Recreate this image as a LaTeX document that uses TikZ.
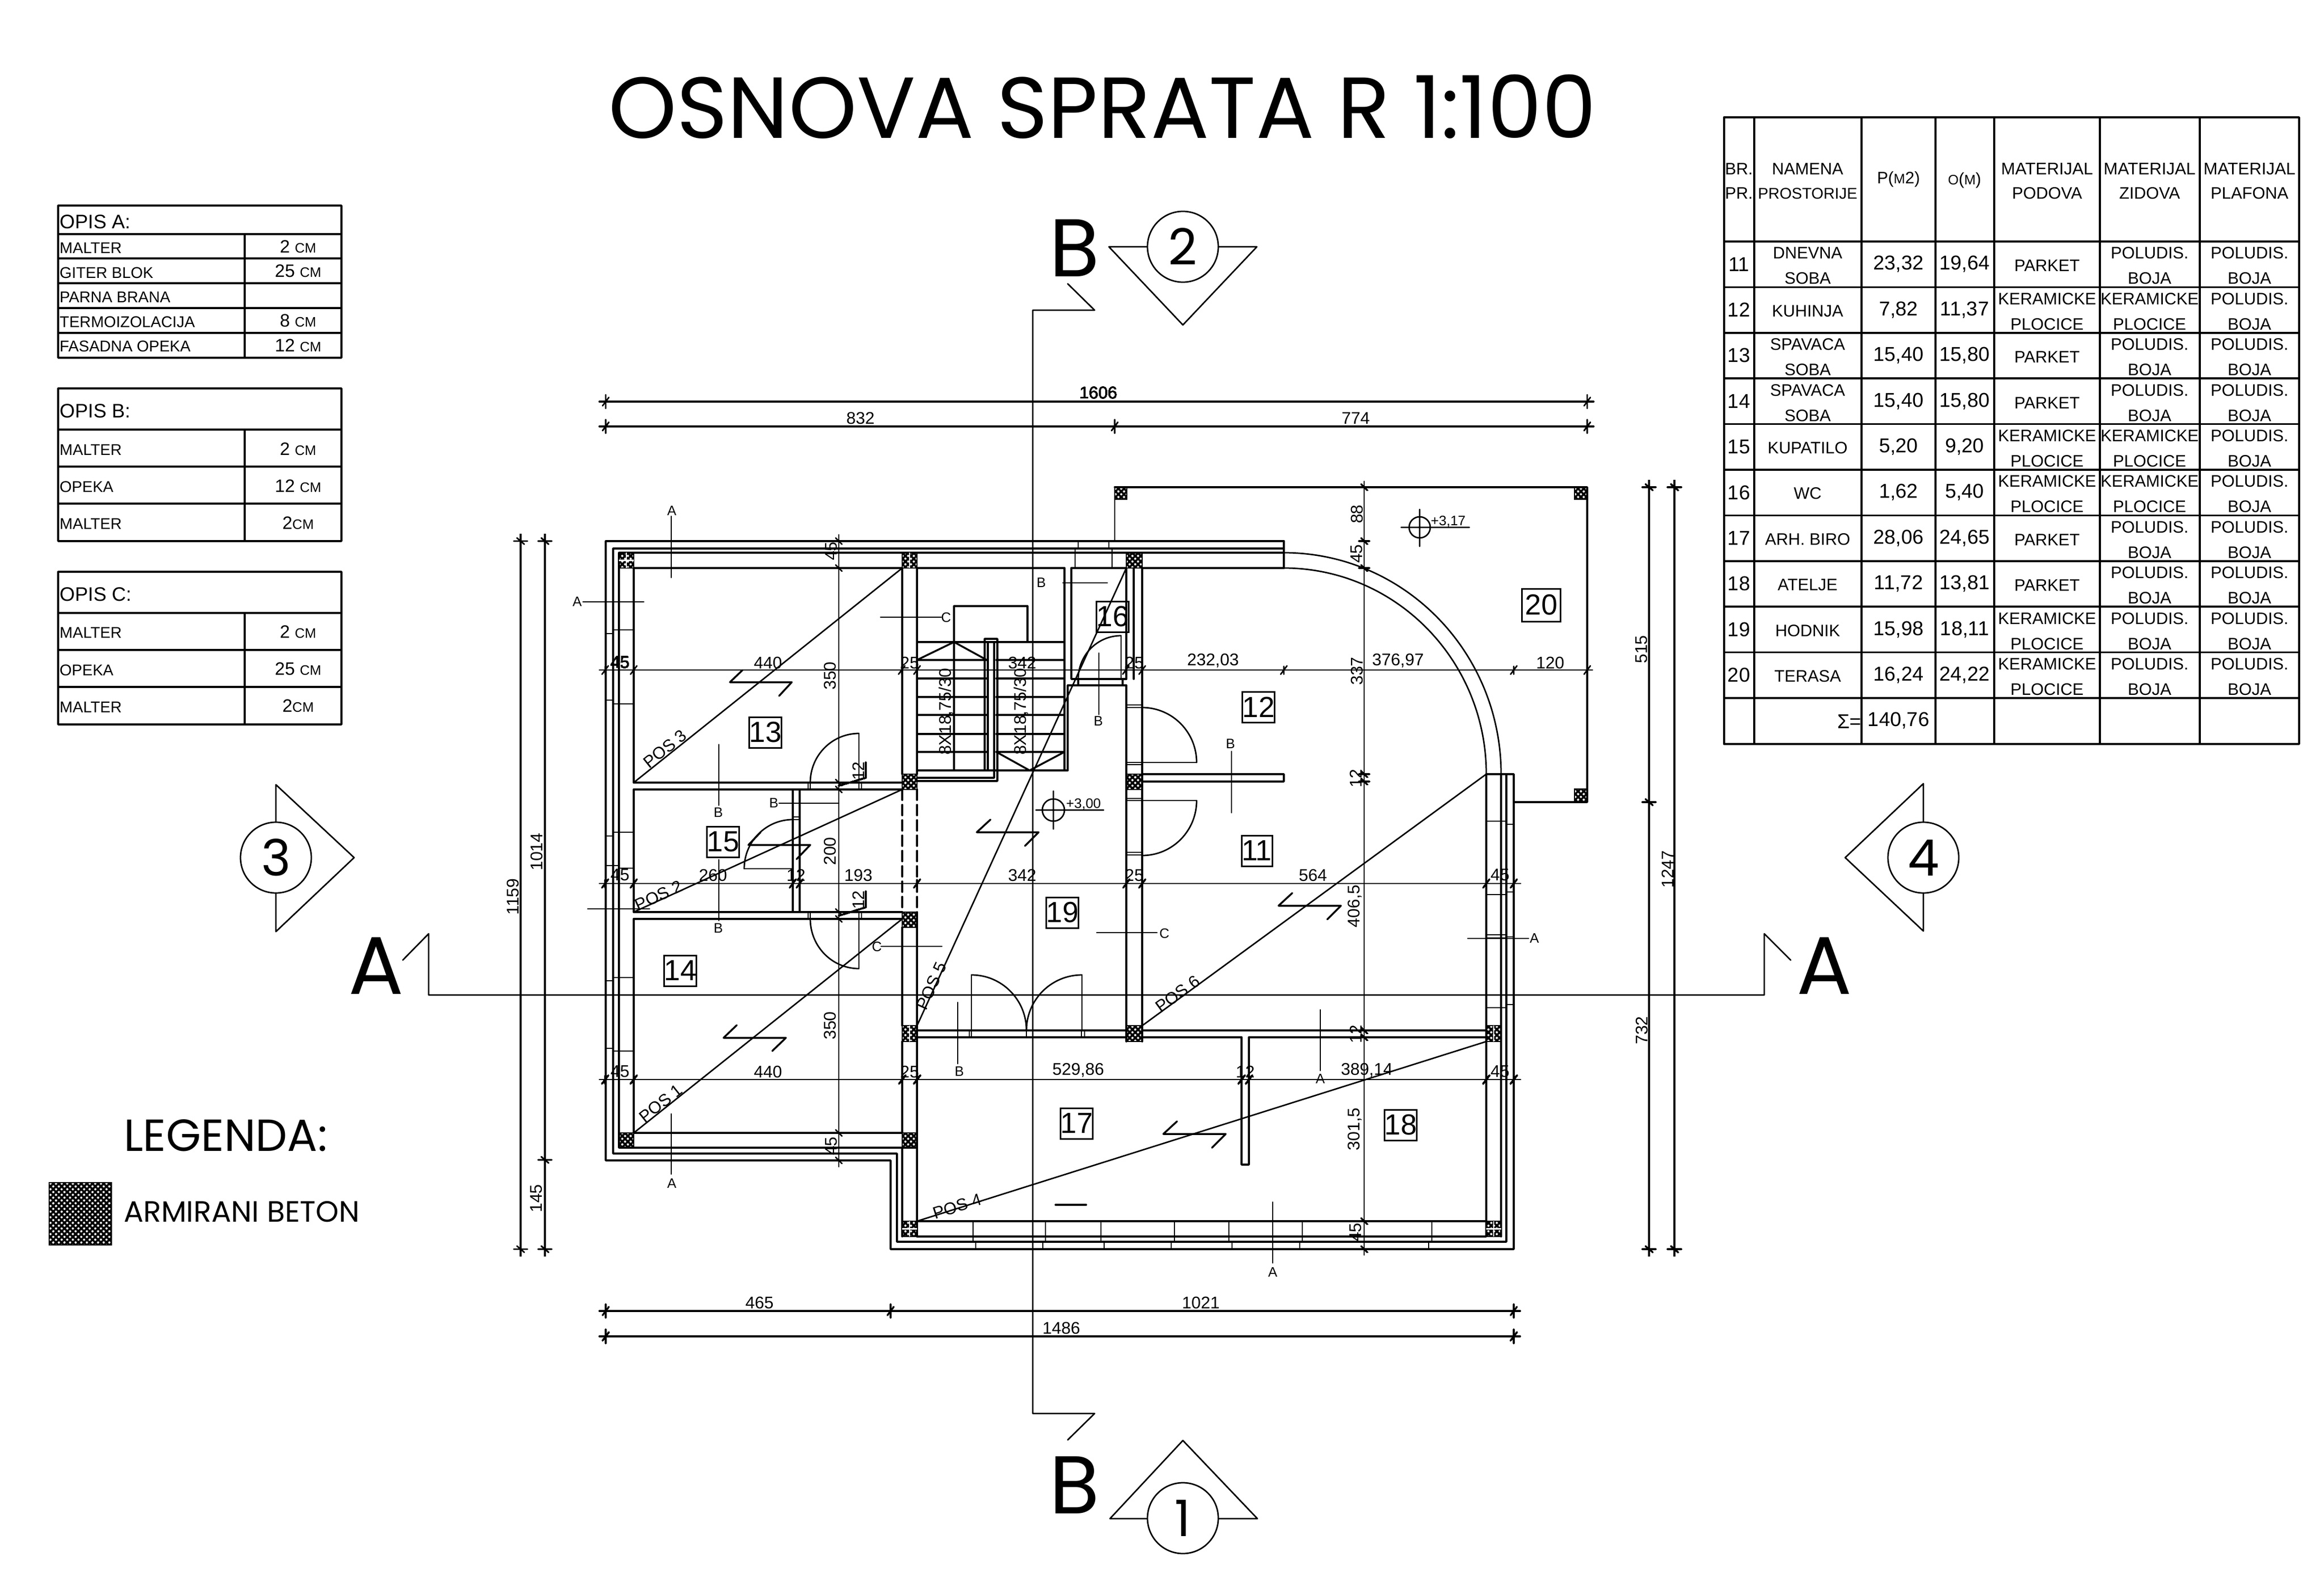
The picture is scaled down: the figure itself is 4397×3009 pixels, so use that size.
\documentclass[tikz,border=0pt]{standalone}
\usepackage{fontspec}
\setmainfont{Liberation Sans}
\newfontfamily\pf{Poppins}
\usetikzlibrary{patterns.meta}
\newcommand{\fsz}[1]{\fontsize{#1}{#1}\selectfont}
\newcommand{\sm}[1]{{\fontsize{5.2}{5.2}\selectfont #1}}
\tikzset{
  wall/.style={line width=.7pt,line cap=round,line join=round},
  fine/.style={line width=.55pt,line cap=round,line join=round},
  column/.style={draw,line width=.5pt,pattern={Hatch[angle=45,distance=1.5pt,line width=.75pt]}},
  dimtxt/.style={inner sep=0pt,font=\fsz{6.4}},
  seclab/.style={inner sep=0pt,font=\fsz{5.2}},
  rotlab/.style={inner sep=0pt,font=\fsz{6.4},rotate=90},
  roomno/.style={draw,line width=.6pt,minimum width=11.6pt,minimum height=11.6pt,inner sep=0pt,font=\fsz{11}},
  tabtxt/.style={inner sep=0pt,font=\fsz{6.3}},
  tabnum/.style={inner sep=0pt,font=\fsz{7.6}},
  ltab/.style={inner sep=0pt,anchor=west,font=\fsz{7.4}},
  ltabs/.style={inner sep=0pt,anchor=west,font=\fsz{5.9}},
  ltabv/.style={inner sep=0pt,font=\fsz{6.8}},
  biglet/.style={inner sep=0pt,font=\pf\fsz{31}},
  ringno/.style={inner sep=0pt,font=\pf\fsz{19}},
}
% quarter curve: leaves first point horizontally, reaches second point vertically
\newcommand{\hv}[4]{\draw[fine] (#1,#2) .. controls ({#1+.5523*(#3-(#1))},#2) and (#3,{#4+.5523*(#2-(#4))}) .. (#3,#4);}
\newcommand{\htk}[2]{\draw[fine] (#1,#2-13) -- (#1,#2+13) (#1-6,#2+8) -- (#1+6,#2-8);}
\newcommand{\htks}[2]{\draw[fine] (#1,#2-7) -- (#1,#2+8) (#1-6,#2+8) -- (#1+6,#2-8);}
\newcommand{\vtk}[2]{\draw[fine] (#1-13,#2) -- (#1+13,#2) (#1-7,#2-6) -- (#1+7,#2+6);}
\newcommand{\vtks}[2]{\draw[fine] (#1-10,#2) -- (#1+10,#2) (#1-6,#2-6) -- (#1+6,#2+6);}
\newcommand{\sla}[8]{\draw[wall] (#1,#2) -- (#3,#4) -- (#5,#6) -- (#7,#8);}
\newcommand{\col}[4]{\path[column] (#1,#3) rectangle (#2,#4);}
\newcommand{\colx}[4]{\path[column] (#1,#3) rectangle (#2,#4);
  \draw[white,line width=.45pt] ({(#1+#2)/2},#3) -- ({(#1+#2)/2},#4);}
\newcommand{\colc}[4]{\path[column] (#1,#3) rectangle (#2,#4);
  \draw[white,line width=.45pt] ({(#1+#2)/2},#3) -- ({(#1+#2)/2},#4) (#1,{(#3+#4)/2}) -- (#2,{(#3+#4)/2});}
% table row: index, no, name1, name2, p, o, floor(0 parket,1 ker), wall(0 pol,1 ker)
\newcommand{\trow}[8]{%
  \pgfmathsetmacro{\rt}{457+86.4*#1}
  \node[tabnum] at (3290,\rt+43) {#2};
  \ifx&#4&\node[tabtxt] at (3420,\rt+45) {#3};\else
    \node[tabtxt] at (3420,\rt+22) {#3};\node[tabtxt] at (3420,\rt+70) {#4};\fi
  \node[tabnum] at (3592,\rt+43) {#5};
  \node[tabnum] at (3717,\rt+43) {#6};
  \ifnum#7=0 \node[tabtxt] at (3873,\rt+46) {PARKET};\else
    \node[tabtxt] at (3873,\rt+22) {KERAMICKE};\node[tabtxt] at (3873,\rt+70) {PLOCICE};\fi
  \ifnum#8=0 \node[tabtxt] at (4067,\rt+22) {POLUDIS.};\node[tabtxt] at (4067,\rt+70) {BOJA};\else
    \node[tabtxt] at (4067,\rt+22) {KERAMICKE};\node[tabtxt] at (4067,\rt+70) {PLOCICE};\fi
  \node[tabtxt] at (4256,\rt+22) {POLUDIS.};\node[tabtxt] at (4256,\rt+70) {BOJA};
}
\begin{document}
\begin{tikzpicture}[x=0.2pt,y=-0.2pt]
\useasboundingbox (0,0) rectangle (4397,3009);
\fill[white] (0,0) rectangle (4397,3009);

% title
\node[inner sep=0pt,font=\pf\fsz{32.8}] (title) at (2086,202) {OSNOVA SPRATA R 1:100};

% left tables
\draw[wall] (110,389) rectangle (646,677) (110,443) -- (646,443) (110,489) -- (646,489) (110,536) -- (646,536) (110,583) -- (646,583) (110,630) -- (646,630) (463,443) -- (463,677);
\draw[wall] (110,735) rectangle (646,1024) (110,813) -- (646,813) (110,883) -- (646,883) (110,953) -- (646,953) (463,813) -- (463,1024);
\draw[wall] (110,1082) rectangle (646,1371) (110,1160) -- (646,1160) (110,1230) -- (646,1230) (110,1300) -- (646,1300) (463,1160) -- (463,1371);
\node[ltab] at (112,420) {OPIS A:};
\node[ltabs] at (112,469) {MALTER};
\node[ltabs] at (112,516) {GITER BLOK};
\node[ltabs] at (112,562) {PARNA BRANA};
\node[ltabs] at (112,609) {TERMOIZOLACIJA};
\node[ltabs] at (112,655) {FASADNA OPEKA};
\node[ltabv] at (564,467) {2 \sm{CM}};
\node[ltabv] at (564,513) {25 \sm{CM}};
\node[ltabv] at (564,607) {8 \sm{CM}};
\node[ltabv] at (564,654) {12 \sm{CM}};
\node[ltab] at (112,778) {OPIS B:};
\node[ltabs] at (112,851) {MALTER};
\node[ltabs] at (112,921) {OPEKA};
\node[ltabs] at (112,991) {MALTER};
\node[ltabv] at (564,850) {2 \sm{CM}};
\node[ltabv] at (564,920) {12 \sm{CM}};
\node[ltabv] at (564,990) {2\sm{CM}};
\node[ltab] at (112,1125) {OPIS C:};
\node[ltabs] at (112,1197) {MALTER};
\node[ltabs] at (112,1268) {OPEKA};
\node[ltabs] at (112,1338) {MALTER};
\node[ltabv] at (564,1196) {2 \sm{CM}};
\node[ltabv] at (564,1266) {25 \sm{CM}};
\node[ltabv] at (564,1336) {2\sm{CM}};

% legend
\node[inner sep=0pt,anchor=west,font=\pf\fsz{17}] at (233,2149) {LEGENDA:};
\path[column] (93,2238) rectangle (211,2356);
\node[inner sep=0pt,anchor=west,font=\pf\fsz{11.1}] at (233,2293) {ARMIRANI BETON};

% right table
\draw[wall] (3262,222) rectangle (4350,1408);
\foreach \cx in {3319,3522,3662,3773,3973,4162} \draw[wall] (\cx,222) -- (\cx,1408);
\draw[wall] (3262,457) -- (4350,457);
\foreach \i in {1,...,11} \draw[wall] (3262,{457+86.4*\i}) -- (4350,{457+86.4*\i});
\node[tabtxt] at (3290,320) {BR.};
\node[tabtxt] at (3290,366) {PR.};
\node[tabtxt] at (3420,320) {NAMENA};
\node[tabtxt,font=\fsz{5.9}] at (3420,366) {PROSTORIJE};
\node[tabtxt] at (3592,339) {P(\sm{M}2)};
\node[tabtxt] at (3717,341) {\sm{O}(\sm{M})};
\node[tabtxt,font=\fsz{6.4}] at (3873,320) {MATERIJAL};
\node[tabtxt] at (3873,366) {PODOVA};
\node[tabtxt,font=\fsz{6.4}] at (4067,320) {MATERIJAL};
\node[tabtxt] at (4067,366) {ZIDOVA};
\node[tabtxt,font=\fsz{6.4}] at (4256,320) {MATERIJAL};
\node[tabtxt] at (4256,366) {PLAFONA};
\trow{0}{11}{DNEVNA}{SOBA}{23,32}{19,64}{0}{0}
\trow{1}{12}{KUHINJA}{}{7,82}{11,37}{1}{1}
\trow{2}{13}{SPAVACA}{SOBA}{15,40}{15,80}{0}{0}
\trow{3}{14}{SPAVACA}{SOBA}{15,40}{15,80}{0}{0}
\trow{4}{15}{KUPATILO}{}{5,20}{9,20}{1}{1}
\trow{5}{16}{WC}{}{1,62}{5,40}{1}{1}
\trow{6}{17}{ARH. BIRO}{}{28,06}{24,65}{0}{0}
\trow{7}{18}{ATELJE}{}{11,72}{13,81}{0}{0}
\trow{8}{19}{HODNIK}{}{15,98}{18,11}{1}{0}
\trow{9}{20}{TERASA}{}{16,24}{24,22}{1}{0}
\node[tabnum] at (3499,1365) {Σ=};
\node[tabnum] at (3592,1364) {140,76};

% ---- section axes and markers
\draw[fine] (2020,537) -- (2071,587) -- (1954,587) -- (1954,2675) -- (2071,2675) -- (2020,2725);
\draw[fine] (762,1817) -- (811,1767) -- (811,1883) -- (3338,1883) -- (3338,1767) -- (3388,1817);
\node[biglet] at (2033,469) {B};
\node[biglet] at (2033,2810) {B};
\node[biglet] at (712,1828) {A};
\node[biglet] at (3452,1828) {A};
\draw[fine] (2098,467) -- (2378,467) -- (2238,615) -- cycle;
\draw[fine] (2100,2874) -- (2379,2874) -- (2238,2726) -- cycle;
\draw[fine] (522,1485) -- (670,1623) -- (522,1763) -- cycle;
\draw[fine] (3639,1483) -- (3491,1623) -- (3639,1762) -- cycle;
\node[ringno,circle,draw,fill=white,line width=.55pt,minimum size=26.8pt] (r2) at (2238,467) {2};
\node[ringno,circle,draw,fill=white,line width=.55pt,minimum size=26.8pt] (r1) at (2238,2873) {1};
\node[ringno,circle,draw,fill=white,line width=.55pt,minimum size=26.8pt] (r3) at (522,1623) {3};
\node[ringno,circle,draw,fill=white,line width=.55pt,minimum size=26.8pt] (r4) at (3639,1623) {4};

% ---- outer walls
\draw[wall] (2429,1024) -- (1146,1024) -- (1146,2196) -- (1685,2196) -- (1685,2364) -- (2864,2364) -- (2864,1465) -- (2812,1465);
\draw[wall] (2429,1038) -- (1160,1038) -- (1160,2183) -- (1697,2183) -- (1697,2350) -- (2850,2350) -- (2850,1465);
\draw[wall] (2429,1024) -- (2429,1075);
\draw[wall] (2429,1046) -- (1171,1046) -- (1171,2172) -- (1707,2172);
\draw[wall] (1199,1075) -- (1199,1481);
\draw[wall] (1199,1494) -- (1199,1726);
\draw[wall] (1199,1739) -- (1199,2144) -- (1707,2144);
\draw[wall] (1199,1075) -- (1707,1075) (1735,1075) -- (2014,1075) (2027,1075) -- (2131,1075) (2161,1075) -- (2429,1075);
\hv{2429}{1046}{2840}{1465}
\hv{2429}{1075}{2812}{1465}
\draw[wall] (2812,1465) -- (2812,2340) -- (1735,2340) (2812,2311) -- (1735,2311) (2840,1465) -- (2840,2340);
\draw[wall] (1707,2172) -- (1735,2172);
\draw[wall] (1707,2172) -- (1707,2340) (1735,2172) -- (1735,2340);

% window ticks, left wall
\draw[fine] (1160,1192) -- (1199,1192) (1146,1199) -- (1160,1199) (1160,1332) -- (1199,1332) (1146,1325) -- (1160,1325)
  (1160,1575) -- (1199,1575) (1146,1582) -- (1160,1582) (1146,1638) -- (1171,1638) (1171,1643) -- (1199,1643)
  (1160,1850) -- (1199,1850) (1146,1856) -- (1160,1856) (1160,1989) -- (1199,1989) (1146,1984) -- (1160,1984);
% window ticks, top wall
\draw[fine] (2040,1024) -- (2040,1038) (2098,1024) -- (2098,1038) (2034,1038) -- (2034,1075) (2104,1038) -- (2104,1075) (2109,922) -- (2109,1024);
% window ticks, right wall
\draw[fine] (2812,1554) -- (2850,1554) (2850,1560) -- (2864,1560) (2812,1693) -- (2850,1693) (2850,1688) -- (2864,1688)
  (2812,1769) -- (2850,1769) (2812,1775) -- (2850,1775) (2850,1773) -- (2864,1773) (2812,1907) -- (2850,1907) (2850,1901) -- (2864,1901);
% window ticks, bottom wall
\draw[fine] (1841,2311) -- (1841,2350) (1978,2311) -- (1978,2350) (2083,2311) -- (2083,2350) (2222,2311) -- (2222,2350) (2325,2311) -- (2325,2350) (2464,2311) -- (2464,2350) (2709,2311) -- (2709,2350)
  (1846,2350) -- (1846,2364) (1973,2350) -- (1973,2364) (2089,2350) -- (2089,2364) (2216,2350) -- (2216,2364) (2331,2350) -- (2331,2364) (2459,2350) -- (2459,2364) (2703,2350) -- (2703,2364);

% terrace
\draw[wall] (2109,922) -- (3003,922) -- (3003,1518) -- (2864,1518);

% ---- inner walls
\draw[wall] (1707,1075) -- (1707,1465) (1735,1075) -- (1735,1465);
\draw[wall,dashed,dash pattern=on 4pt off 1.8pt] (1707,1494) -- (1707,1726) (1735,1494) -- (1735,1726);
\draw[wall] (1707,1755) -- (1707,1941) (1707,1971) -- (1707,2144) (1735,1726) -- (1735,2172);
\draw[wall] (1199,1481) -- (1707,1481) (1199,1494) -- (1707,1494);
\draw[wall] (1199,1726) -- (1707,1726) (1199,1739) -- (1707,1739);
\draw[wall] (1500,1494) -- (1500,1726) (1513,1494) -- (1513,1726);
\draw[fine] (1529,1481) -- (1529,1494) (1533,1481) -- (1533,1494) (1625,1481) -- (1625,1494) (1630,1481) -- (1630,1494)
  (1529,1726) -- (1529,1739) (1533,1726) -- (1533,1739) (1625,1726) -- (1625,1739) (1630,1726) -- (1630,1739)
  (1500,1546) -- (1513,1546) (1500,1551) -- (1513,1551);
% corridor wall
\draw[wall] (1735,1950) -- (2131,1950) (1735,1963) -- (2131,1963);
\draw[fine] (1834,1950) -- (1834,1963) (1838,1950) -- (1838,1963) (2046,1950) -- (2046,1963) (2052,1950) -- (2052,1963) (1942,1950) -- (1942,1963);
\draw[wall] (2161,1950) -- (2812,1950) (2161,1963) -- (2349,1963) (2363,1963) -- (2812,1963);
\draw[wall] (2349,1963) -- (2349,2204) -- (2363,2204) -- (2363,1963);
% kitchen wall
\draw[wall] (2131,1297) -- (2131,1971) (2161,1075) -- (2161,1971) (2131,1075) -- (2131,1285) (2145,1075) -- (2145,1285);
\draw[wall] (2161,1465) -- (2429,1465) -- (2429,1479) -- (2161,1479);
\draw[fine] (2131,1334) -- (2161,1334) (2131,1339) -- (2161,1339) (2131,1443) -- (2264,1443) -- (2264,1443) (2131,1447) -- (2161,1447)
  (2131,1511) -- (2161,1511) (2131,1515) -- (2264,1515) (2131,1613) -- (2161,1613) (2131,1618) -- (2161,1618);
% WC
\draw[wall] (2014,1075) -- (2014,1458) (2027,1075) -- (2027,1285) -- (2131,1285) (2020,1297) -- (2131,1297) (2020,1297) -- (2020,1458) (2040,1285) -- (2040,1297) (2124,1285) -- (2124,1297);
% stairs
\draw[wall] (1735,1458) -- (2020,1458) (1735,1215) -- (2014,1215);
\draw[wall] (1805,1147) -- (1944,1147) (1805,1147) -- (1805,1458) (1944,1147) -- (1944,1215);
\foreach \sy in {1249,1284,1319,1353,1389,1423} \draw[wall] (1735,\sy) -- (1867,\sy) (1885,\sy) -- (2014,\sy);
\draw[wall] (1735,1249) -- (1805,1215) -- (1867,1249) (1885,1423) -- (1948,1458) -- (2014,1423);
\draw[wall] (1735,1472) -- (1881,1472) -- (1881,1215) (1735,1478) -- (1887,1478) -- (1887,1209) -- (1863,1209) -- (1863,1458) (1869,1215) -- (1869,1458) (1863,1215) -- (1887,1215);
\node[rotlab] at (1790,1347) {8X18,75/30};
\node[rotlab] at (1932,1347) {8X18,75/30};

% doors
\draw[fine] (1625,1388) -- (1625,1481) (1625,1739) -- (1625,1833) (1408,1644) -- (1500,1644) (2121,1203) -- (2121,1285) (1838,1845) -- (1838,1950) (2047,1845) -- (2047,1950);
\hv{1625}{1388}{1533}{1481}
\hv{1625}{1833}{1533}{1739}
\hv{1500}{1551}{1408}{1644}
\hv{2121}{1203}{2040}{1285}
\hv{1838}{1845}{1942}{1950}
\hv{2047}{1845}{1942}{1950}
\hv{2161}{1339}{2264}{1443}
\hv{2161}{1619}{2264}{1515}

% columns
\colc{1171}{1199}{1046}{1075}
\colx{1707}{1735}{1046}{1075}
\col{2131}{2161}{1046}{1075}
\col{1707}{1735}{1465}{1494}
\col{2131}{2161}{1465}{1494}
\col{1707}{1735}{1726}{1755}
\colx{1707}{1735}{1941}{1971}
\col{2131}{2161}{1941}{1971}
\colx{2812}{2840}{1941}{1971}
\col{1171}{1199}{2144}{2172}
\col{1707}{1735}{2144}{2172}
\colc{1707}{1735}{2311}{2340}
\colc{2812}{2840}{2311}{2340}
\col{2109}{2132}{922}{945}
\col{2979}{3003}{922}{945}
\col{2979}{3003}{1493}{1518}

% slab diagonals
\draw[fine] (1199,1481) -- (1707,1075);
\draw[fine] (1199,1726) -- (1707,1494);
\draw[fine] (1199,2144) -- (1707,1739);
\draw[fine] (1735,2311) -- (2812,1971);
\draw[fine] (1735,1941) -- (2131,1075);
\draw[fine] (2161,1941) -- (2812,1465);
\node[dimtxt,rotate=38.6] at (1258,1417) {POS 3};
\node[dimtxt,rotate=24.5] at (1246,1695) {POS 2};
\node[dimtxt,rotate=38.6] at (1250,2088) {POS 1};
\node[dimtxt,rotate=17.5] at (1811,2283) {POS 4};
\node[dimtxt,rotate=65.4] at (1762,1866) {POS 5};
\node[dimtxt,rotate=36] at (2228,1881) {POS 6};
\sla{1405}{1268}{1381}{1291}{1498}{1291}{1474}{1317}
\sla{1874}{1551}{1848}{1575}{1965}{1575}{1939}{1601}
\sla{1439}{1575}{1416}{1599}{1533}{1599}{1507}{1626}
\sla{1394}{1940}{1369}{1964}{1487}{1964}{1461}{1989}
\sla{2445}{1690}{2419}{1714}{2537}{1714}{2511}{1740}
\sla{2227}{2122}{2201}{2146}{2319}{2146}{2293}{2172}
\draw[wall] (1997,2280) -- (2055,2280);

% section marks
\draw[fine] (1270,977) -- (1270,1093) (1103,1139) -- (1218,1139) (1360,1409) -- (1360,1524) (2011,1103) -- (2095,1103)
  (1666,1168) -- (1781,1168) (2079,1236) -- (2079,1352) (2330,1422) -- (2330,1538) (1474,1520) -- (1587,1520)
  (1360,1627) -- (1360,1742) (1112,1720) -- (1229,1720) (1667,1791) -- (1782,1791) (2075,1765) -- (2189,1765)
  (2777,1776) -- (2892,1776) (1812,1897) -- (1812,2013) (2498,1911) -- (2498,2026) (2408,2275) -- (2408,2390) (1270,2108) -- (1270,2222);
\node[seclab] at (1271,967) {A};
\node[seclab] at (1092,1139) {A};
\node[seclab] at (1359,1538) {B};
\node[seclab] at (1970,1103) {B};
\node[seclab] at (1790,1169) {C};
\node[seclab] at (2078,1365) {B};
\node[seclab] at (2328,1408) {B};
\node[seclab] at (1464,1520) {B};
\node[seclab] at (1359,1757) {B};
\node[seclab] at (1659,1792) {C};
\node[seclab] at (2203,1767) {C};
\node[seclab] at (2903,1776) {A};
\node[seclab] at (1815,2028) {B};
\node[seclab] at (2498,2042) {A};
\node[seclab] at (2408,2408) {A};
\node[seclab] at (1271,2240) {A};

% level marks
\draw[fine] (1993,1533) ellipse [x radius=21,y radius=21] (1993,1497) -- (1993,1569) (1960,1533) -- (2088,1533);
\draw[fine] (2686,998) ellipse [x radius=20,y radius=20] (2686,964) -- (2686,1034) (2651,998) -- (2780,998);
\node[seclab] at (2050,1522) {+3,00};
\node[seclab] at (2740,987) {+3,17};

% room numbers
\node[roomno] (n13) at (1448,1386) {13};
\node[roomno] (n15) at (1368,1593) {15};
\node[roomno] (n16) at (2105,1167) {16};
\node[roomno] (n12) at (2381,1338) {12};
\node[roomno,minimum width=14.6pt,minimum height=12.4pt] (n20) at (2916,1145) {20};
\node[roomno] (n11) at (2378,1610) {11};
\node[roomno] (n14) at (1287,1837) {14};
\node[roomno] (n19) at (2010,1727) {19};
\node[roomno] (n17) at (2037,2126) {17};
\node[roomno] (n18) at (2650,2129) {18};

% ---- dimension lines
\draw[wall] (1134,760) -- (3015,760) (1134,807) -- (3015,807);
\draw[wall] (1134,2481) -- (2876,2481) (1134,2529) -- (2876,2529);
\foreach \t in {1146,3003} \htk{\t}{760}
\foreach \t in {1146,2109,3003} \htk{\t}{807}
\foreach \t in {1146,1685,2864} \htk{\t}{2481}
\foreach \t in {1146,2864} \htk{\t}{2529}
\draw[wall] (985,1012) -- (985,2376) (1031,1012) -- (1031,2376) (3120,910) -- (3120,2376) (3168,910) -- (3168,2376);
\foreach \t in {1024,2364} \vtk{985}{\t}
\foreach \t in {1024,2195,2364} \vtk{1031}{\t}
\foreach \t in {922,1518,2364} \vtk{3120}{\t}
\foreach \t in {922,2364} \vtk{3168}{\t}
\node[dimtxt] at (2078,743) {1606};
\node[dimtxt] at (1628,791) {832};
\node[dimtxt] at (2565,791) {774};
\node[dimtxt] at (1437,2465) {465};
\node[dimtxt] at (2272,2465) {1021};
\node[dimtxt] at (2008,2513) {1486};
\node[rotlab] at (970,1697) {1159};
\node[rotlab] at (1015,1612) {1014};
\node[rotlab] at (1015,2268) {145};
\node[rotlab] at (3106,1229) {515};
\node[rotlab] at (3106,1950) {732};
\node[rotlab] at (3155,1645) {1247};

% inner dimension rows
\draw[fine] (1134,1268) -- (3013,1268) (1134,1672) -- (2877,1672) (1134,2043) -- (2877,2043);
\foreach \t in {1145,1199,1706,1735,2130,2161,2429,2864,3003} \htks{\t}{1268}
\foreach \t in {1145,1199,1500,1513,1735,2131,2161,2812,2864} \htks{\t}{1672}
\foreach \t in {1145,1199,1707,1735,2349,2363,2812,2864} \htks{\t}{2043}
\node[dimtxt] at (1173,1254) {45};
\node[dimtxt] at (1453,1254) {440};
\node[dimtxt] at (1721,1254) {25};
\node[dimtxt] at (1934,1254) {342};
\node[dimtxt] at (2146,1254) {25};
\node[dimtxt] at (2295,1250) {232,03};
\node[dimtxt] at (2645,1250) {376,97};
\node[dimtxt] at (2933,1254) {120};
\node[dimtxt] at (1173,1656) {45};
\node[dimtxt] at (1349,1656) {260};
\node[dimtxt] at (1506,1656) {12};
\node[dimtxt] at (1624,1656) {193};
\node[dimtxt] at (1934,1656) {342};
\node[dimtxt] at (2146,1656) {25};
\node[dimtxt] at (2484,1656) {564};
\node[dimtxt] at (2838,1656) {45};
\node[dimtxt] at (1173,2028) {45};
\node[dimtxt] at (1453,2028) {440};
\node[dimtxt] at (1721,2028) {25};
\node[dimtxt] at (2040,2025) {529,86};
\node[dimtxt] at (2356,2028) {12};
\node[dimtxt] at (2586,2025) {389,14};
\node[dimtxt] at (2838,2028) {45};

% inner dimension columns
\draw[fine] (1587,1012) -- (1587,2208) (2581,911) -- (2581,2375);
\foreach \t in {1024,1075,1481,1494,1726,1739,2144,2196} \vtks{1587}{\t}
\foreach \t in {922,1024,1075,1465,1479,1950,1963,2311,2364} \vtks{2581}{\t}
\draw[fine] (1587,1487) -- (1638,1472) -- (1638,1443) (1587,1733) -- (1638,1717) -- (1638,1687);
\node[rotlab] at (1573,1043) {45};
\node[rotlab] at (1570,1279) {350};
\node[rotlab] at (1624,1459) {12};
\node[rotlab] at (1570,1611) {200};
\node[rotlab] at (1624,1703) {12};
\node[rotlab] at (1570,1941) {350};
\node[rotlab] at (1573,2169) {45};
\node[rotlab] at (2567,973) {88};
\node[rotlab] at (2567,1048) {45};
\node[rotlab] at (2567,1270) {337};
\node[rotlab] at (2565,1473) {12};
\node[rotlab] at (2563,1715) {406,5};
\node[rotlab] at (2565,1957) {12};
\node[rotlab] at (2563,2137) {301,5};
\node[rotlab] at (2565,2332) {45};
\end{tikzpicture}
\end{document}
